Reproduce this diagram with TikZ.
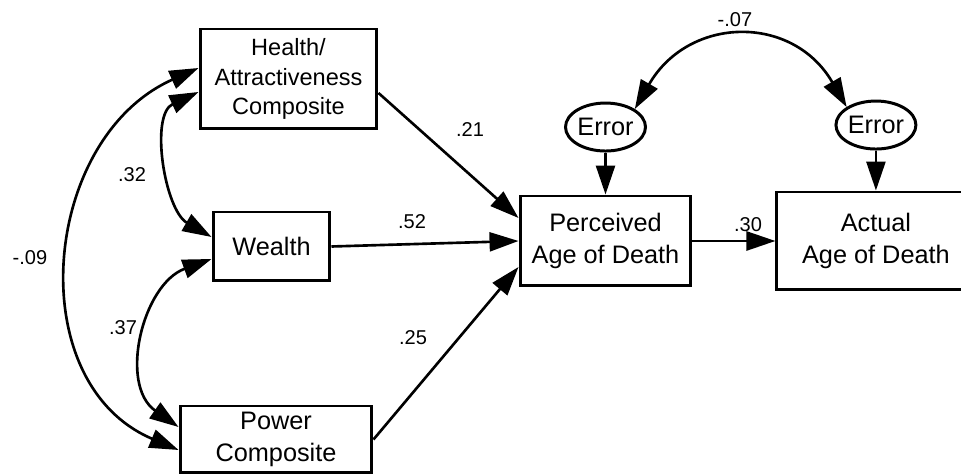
\documentclass[tikz,border=0pt]{standalone}
\usepackage{fontspec}
\setmainfont{Liberation Sans}
\usetikzlibrary{arrows.meta,shapes.geometric,positioning}

\begin{document}
\begin{tikzpicture}[x=0.02cm,y=0.02cm,>={Triangle[length=0.58cm,width=0.38cm]},line width=1.5pt,
  var/.style={rectangle,draw,line width=1.7pt,align=center,inner sep=0pt,font=\fontsize{14.4}{18}\selectfont},
  err/.style={ellipse,draw,line width=1.7pt,inner sep=0pt,minimum width=1.6cm,minimum height=0.96cm,font=\fontsize{14.4}{18}\selectfont},
  coef/.style={inner sep=0pt,font=\fontsize{11.4}{14}\selectfont}]
\useasboundingbox (0,0) rectangle (961,-475);
\clip (0,0) rectangle (961,-475);

\node (hac) [var,minimum width=3.54cm,minimum height=2cm,font=\fontsize{13.4}{16.8}\selectfont] at (288.5,-79) {Health/\\Attractiveness\\Composite};
\node (wealth) [var,minimum width=2.34cm,minimum height=1.38cm] at (271.5,-246.5) {Wealth};
\node (power) [var,minimum width=3.84cm,minimum height=1.34cm] at (276,-439.5) {Power\\Composite};
\node (perc) [var,minimum width=3.42cm,minimum height=1.8cm] at (605.5,-241) {Perceived\\Age of Death};
\node (actual) [var,minimum width=3.96cm,minimum height=1.96cm,right=1.66cm of perc] {Actual\\Age of Death};

\node (err1) [err,above=0.84cm of perc] {Error};
\node (err2) [err,above=0.8cm of actual] {Error};

\node (c21) [coef] at (470,-130) {.21};
\node (c52) [coef] at (412,-222) {.52};
\node (c25) [coef] at (413,-338) {.25};
\node (c30) [coef] at (748,-225) {.30};
\node (c32) [coef] at (132,-175) {.32};
\node (c37) [coef] at (123,-328) {.37};
\node (c09) [coef] at (30,-258) {-.09};
\node (c07) [coef] at (735,-20) {-.07};

\draw[->] ([yshift=-0.28cm]hac.east) -- ([yshift=0.46cm]perc.west);
\draw[->] (wealth.east) -- (perc.west);
\draw[->] (power.east) -- ([yshift=-0.52cm]perc.west);
\draw[->] (perc.east) -- (actual.west);
\draw[->] (err1) -- (perc);
\draw[->] (err2) -- (actual);

\draw[<->] (err1.north east) to[out=60,in=120,looseness=1.3] (err2.north west);
\draw[<->] ([yshift=-0.26cm]hac.west) to[out=205,in=150,looseness=0.95] ([yshift=0.19cm]wealth.west);
\draw[<->] ([yshift=-0.25cm]wealth.west) to[out=200,in=145,looseness=1.1] ([yshift=0.25cm]power.west);
\draw[<->] ([yshift=0.22cm]hac.west) to[out=204,in=157,looseness=1.15] ([yshift=-0.21cm]power.west);
\end{tikzpicture}
\end{document}
